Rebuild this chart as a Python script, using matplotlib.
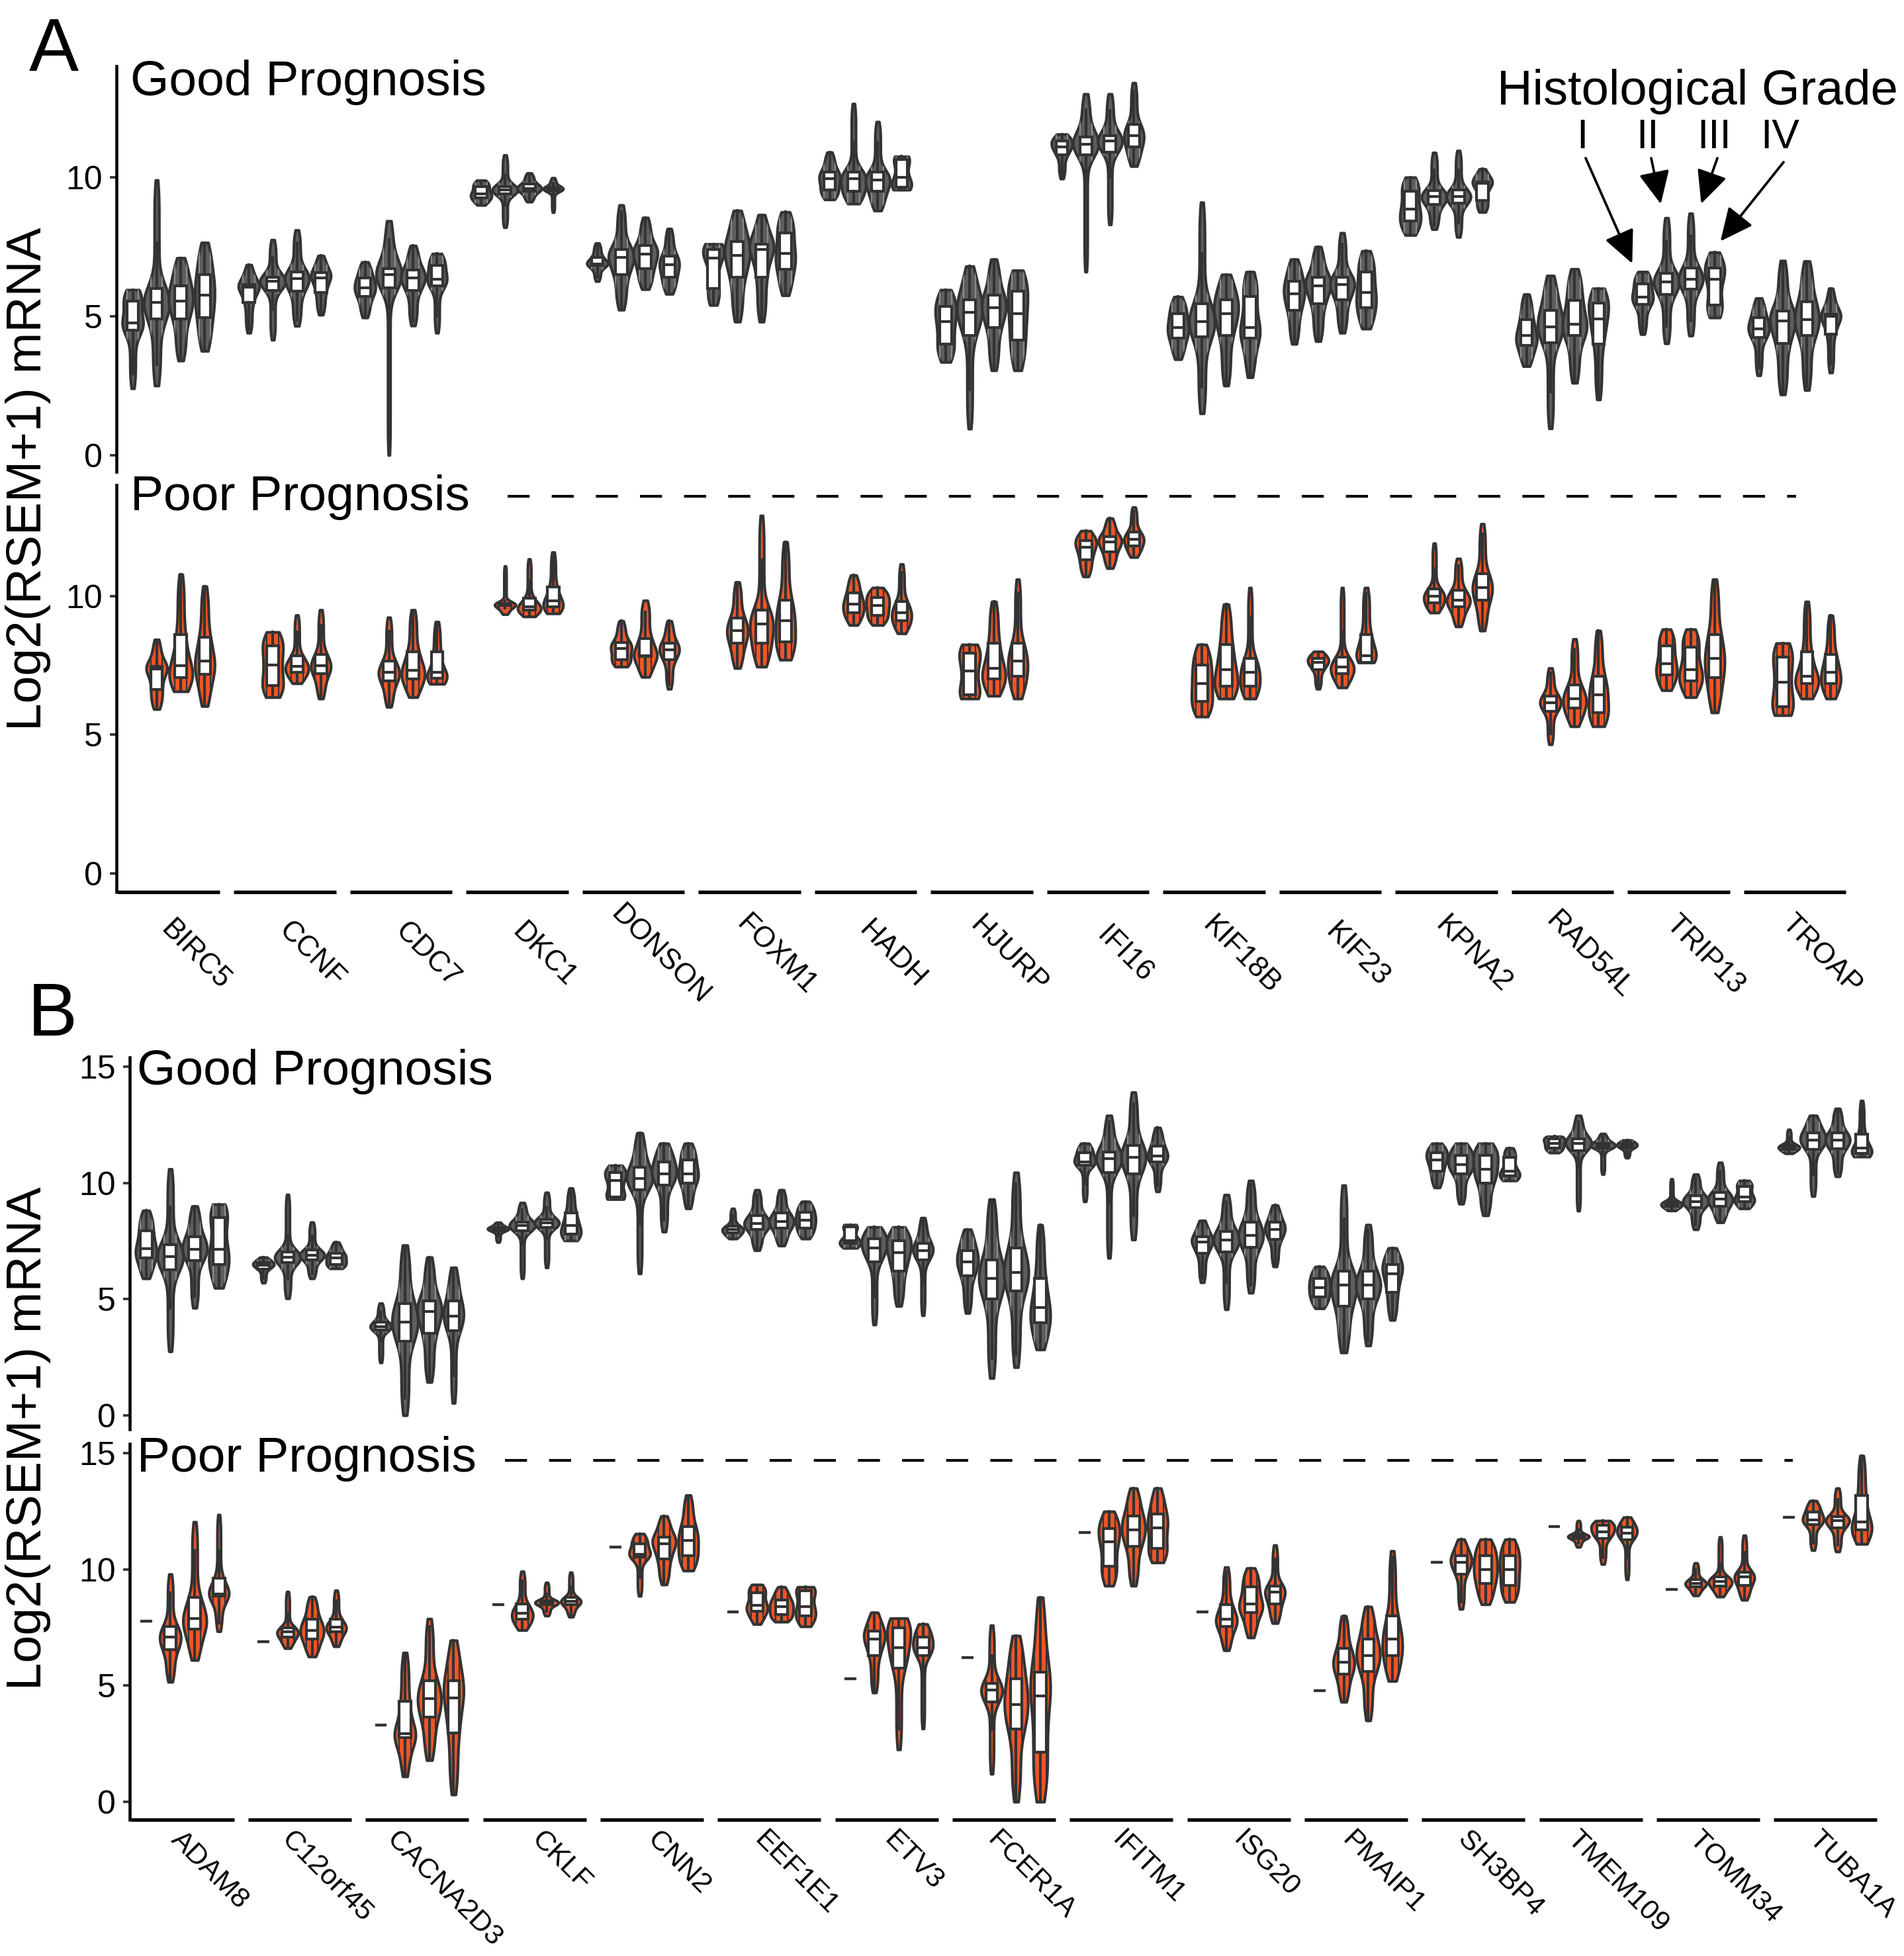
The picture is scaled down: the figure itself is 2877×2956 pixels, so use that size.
import math
import numpy as np
import matplotlib
matplotlib.use("Agg")
import matplotlib.pyplot as plt
from matplotlib.transforms import blended_transform_factory

plt.rcParams['font.family'] = ['Liberation Sans', 'DejaVu Sans']

W, H, DPI = 2877, 2956, 300

grades = ['I', 'II', 'III', 'IV']
genes_a = ['BIRC5', 'CCNF', 'CDC7', 'DKC1', 'DONSON', 'FOXM1', 'HADH', 'HJURP',
           'IFI16', 'KIF18B', 'KIF23', 'KPNA2', 'RAD54L', 'TRIP13', 'TROAP']
genes_b = ['ADAM8', 'C12orf45', 'CACNA2D3', 'CKLF', 'CNN2', 'EEF1E1', 'ETV3', 'FCER1A',
           'IFITM1', 'ISG20', 'PMAIP1', 'SH3BP4', 'TMEM109', 'TOMM34', 'TUBA1A']

# [min, q1, median, q3, max] per gene, grades I..IV (None = no samples)
a_good = [
    [[2.4, 4.5, 4.75, 5.55, 5.95], [2.5, 4.9, 5.5, 6.0, 9.9], [3.4, 4.9, 5.55, 6.1, 7.1], [3.75, 4.95, 5.75, 6.5, 7.65]],
    [[4.4, 5.5, 6.05, 6.15, 6.85], [4.15, 5.93, 6.27, 6.4, 7.75], [4.65, 5.9, 6.35, 6.6, 8.1], [5.05, 5.86, 6.39, 6.56, 7.18]],
    [[4.95, 5.7, 6.03, 6.37, 6.95], [0.0, 6.03, 6.49, 6.72, 8.43], [4.66, 5.92, 6.37, 6.66, 7.54], [4.4, 6.1, 6.32, 6.83, 7.25]],
    [[9.0, 9.26, 9.4, 9.67, 9.89], [8.2, 9.4, 9.55, 9.67, 10.8], [9.12, 9.49, 9.6, 9.75, 10.15], [8.74, 9.52, 9.58, 9.63, 9.98]],
    [[6.26, 6.83, 6.89, 7.12, 7.63], [5.23, 6.49, 7.12, 7.4, 9.0], [5.97, 6.72, 7.23, 7.54, 8.55], [5.8, 6.4, 6.85, 7.16, 8.15]],
    [[5.4, 6.0, 7.1, 7.4, 7.6], [4.8, 6.4, 7.2, 7.7, 8.8], [4.8, 6.4, 7.4, 7.6, 8.65], [5.75, 6.7, 7.25, 8.0, 8.75]],
    [[9.2, 9.55, 9.95, 10.2, 10.9], [9.05, 9.5, 9.95, 10.2, 12.65], [8.8, 9.5, 9.9, 10.2, 12.0], [9.55, 9.65, 10.0, 10.65, 10.75]],
    [[3.35, 4.0, 4.8, 5.35, 5.95], [0.95, 4.3, 5.15, 5.6, 6.8], [3.05, 4.6, 5.3, 5.75, 7.05], [3.05, 4.15, 5.1, 5.9, 6.65]],
    [[9.95, 10.8, 11.1, 11.3, 11.55], [6.6, 10.8, 11.2, 11.45, 13.0], [8.3, 10.9, 11.3, 11.5, 13.0], [10.4, 11.1, 11.5, 11.9, 13.4]],
    [[3.45, 4.2, 4.6, 5.1, 5.7], [1.5, 4.25, 4.8, 5.45, 9.1], [2.5, 4.3, 5.1, 5.6, 6.5], [2.8, 4.2, 4.6, 5.7, 6.6]],
    [[4.0, 5.2, 5.8, 6.25, 7.05], [4.1, 5.45, 6.1, 6.4, 7.5], [4.4, 5.6, 6.15, 6.4, 8.0], [4.55, 5.3, 5.85, 6.6, 7.35]],
    [[7.92, 8.42, 8.85, 9.5, 10.0], [8.13, 9.02, 9.3, 9.52, 10.89], [7.85, 9.07, 9.3, 9.55, 10.96], [8.75, 9.16, 9.78, 9.83, 10.3]],
    [[3.2, 3.95, 4.3, 4.88, 5.79], [0.96, 4.04, 4.62, 5.22, 6.46], [2.6, 4.3, 4.71, 5.57, 6.7], [2.0, 4.0, 4.9, 5.48, 6.0]],
    [[4.35, 5.43, 5.69, 6.17, 6.6], [4.02, 5.79, 6.24, 6.55, 8.54], [4.3, 5.98, 6.34, 6.74, 8.7], [4.95, 5.41, 6.34, 6.74, 7.3]],
    [[2.87, 4.23, 4.55, 4.95, 5.65], [2.18, 4.02, 4.83, 5.19, 7.0], [2.34, 4.3, 4.88, 5.53, 6.98], [2.97, 4.35, 5.0, 5.07, 6.0]],
]

a_poor = [
    [None, [5.92, 6.64, 7.36, 7.47, 8.43], [6.56, 7.07, 7.49, 8.62, 10.78], [6.03, 7.17, 7.66, 8.52, 10.35]],
    [None, [6.35, 6.78, 7.5, 8.2, 8.7], [6.85, 7.26, 7.47, 7.84, 9.31], [6.3, 7.2, 7.49, 7.9, 9.5]],
    [None, [6.0, 6.94, 7.24, 7.66, 9.23], [6.35, 7.02, 7.33, 7.98, 9.5], [6.83, 7.04, 7.24, 8.0, 9.07]],
    [None, [9.34, 9.66, 9.71, 9.73, 11.08], [9.26, 9.5, 9.6, 9.93, 11.33], [9.37, 9.6, 9.82, 10.33, 11.58]],
    [None, [7.45, 7.7, 8.11, 8.32, 9.1], [7.08, 7.82, 7.84, 8.46, 9.84], [6.65, 7.7, 8.05, 8.3, 9.1]],
    [None, [7.4, 8.3, 8.75, 9.2, 10.5], [7.45, 8.3, 9.0, 9.5, 12.9], [7.7, 8.35, 9.1, 9.85, 11.95]],
    [None, [8.95, 9.4, 9.7, 10.1, 10.75], [8.95, 9.3, 9.65, 9.95, 10.3], [8.65, 9.1, 9.4, 9.8, 11.15]],
    [None, [6.3, 6.45, 7.3, 7.95, 8.25], [6.4, 7.0, 7.4, 8.3, 9.8], [6.3, 7.1, 7.65, 8.3, 10.6]],
    [None, [10.7, 11.3, 11.75, 12.0, 12.35], [11.0, 11.6, 11.95, 12.15, 12.8], [11.4, 11.8, 12.05, 12.3, 13.2]],
    [None, [5.65, 6.2, 6.85, 7.5, 8.25], [6.3, 6.75, 7.35, 8.25, 9.7], [6.3, 6.75, 7.25, 7.75, 10.3]],
    [None, [6.65, 7.35, 7.6, 7.75, 8.0], [6.7, 7.2, 7.45, 7.8, 10.3], [7.6, 7.6, 7.85, 8.6, 10.3]],
    [None, [9.4, 9.75, 10.0, 10.25, 11.9], [8.9, 9.6, 9.85, 10.2, 11.35], [8.75, 9.85, 10.3, 10.8, 12.6]],
    [None, [4.65, 5.85, 6.15, 6.4, 7.4], [5.3, 5.95, 6.3, 6.8, 8.45], [5.3, 5.8, 6.45, 7.1, 8.75]],
    [None, [6.6, 7.15, 7.55, 8.2, 8.8], [6.35, 6.95, 7.35, 8.15, 8.8], [5.8, 7.05, 7.75, 8.6, 10.6]],
    [None, [5.7, 6.0, 6.9, 7.8, 8.3], [6.3, 6.85, 7.1, 8.0, 9.8], [6.3, 6.85, 7.25, 7.9, 9.3]],
]

b_good = [
    [[5.89, 6.77, 7.18, 7.93, 8.81], [2.75, 6.25, 6.84, 7.34, 10.6], [4.62, 6.66, 7.15, 7.68, 9.0], [5.48, 6.5, 7.15, 8.5, 9.08]],
    [[5.7, 6.3, 6.47, 6.57, 6.8], [5.03, 6.57, 6.8, 7.04, 9.5], [5.89, 6.7, 6.9, 7.11, 8.31], [6.32, 6.5, 6.77, 6.98, 7.45]],
    [[2.27, 3.68, 3.8, 4.0, 4.82], [0.0, 3.19, 4.02, 4.82, 7.32], [1.43, 3.53, 4.46, 4.93, 6.8], [0.53, 3.64, 4.28, 4.93, 6.36]],
    [[7.45, 7.93, 8.02, 8.07, 8.3], [5.89, 7.93, 8.16, 8.3, 9.15], [6.36, 8.09, 8.27, 8.43, 9.59], [7.52, 7.79, 8.16, 8.71, 9.77]],
    [[9.3, 9.4, 10.1, 10.45, 10.75], [6.1, 9.7, 10.18, 10.68, 12.15], [7.9, 9.9, 10.4, 10.9, 11.7], [8.9, 10.0, 10.4, 11.0, 11.7]],
    [[7.6, 7.85, 8.0, 8.15, 8.9], [7.1, 8.0, 8.25, 8.6, 9.7], [7.3, 8.05, 8.35, 8.7, 9.7], [7.6, 8.05, 8.4, 8.75, 9.2]],
    [[7.2, 7.4, 7.5, 8.1, 8.2], [3.9, 6.6, 7.2, 7.6, 8.1], [4.7, 6.2, 7.0, 7.5, 8.1], [4.3, 6.7, 7.1, 7.4, 8.5]],
    [[4.4, 6.0, 6.6, 7.1, 8.0], [1.6, 5.0, 5.9, 6.7, 9.3], [2.07, 5.36, 6.15, 7.2, 10.45], [2.83, 3.99, 4.65, 5.89, 8.19]],
    [[9.2, 10.77, 10.9, 11.3, 11.7], [6.77, 10.45, 11.05, 11.33, 12.9], [7.56, 10.4, 11.1, 11.6, 13.9], [9.63, 10.9, 11.16, 11.59, 12.38]],
    [[5.72, 6.97, 7.45, 7.68, 8.38], [4.56, 7.03, 7.54, 7.9, 9.49], [5.27, 7.22, 7.73, 8.3, 10.1], [6.4, 7.56, 7.99, 8.3, 9.04]],
    [[4.6, 5.1, 5.5, 5.9, 6.4], [2.7, 4.7, 5.6, 6.2, 9.9], [3.0, 5.0, 5.6, 6.2, 8.2], [4.1, 5.3, 6.1, 6.5, 7.2]],
    [[9.8, 10.5, 11.0, 11.3, 11.7], [9.1, 10.4, 10.8, 11.2, 11.7], [8.6, 10.0, 10.6, 11.2, 11.7], [10.1, 10.3, 10.5, 11.1, 11.5]],
    [[11.3, 11.5, 11.7, 11.9, 12.0], [8.8, 11.4, 11.7, 11.9, 12.9], [10.37, 11.5, 11.6, 11.7, 12.12], [11.08, 11.5, 11.6, 11.7, 11.84]],
    [[8.81, 9.0, 9.1, 9.2, 10.17], [8.0, 8.95, 9.2, 9.46, 10.37], [8.3, 9.0, 9.3, 9.6, 10.88], [8.9, 9.2, 9.4, 9.85, 10.1]],
    [[11.27, 11.45, 11.55, 11.65, 12.3], [9.43, 11.44, 11.84, 12.15, 12.9], [10.28, 11.47, 11.84, 12.15, 13.2], [11.13, 11.27, 11.5, 12.1, 13.54]],
]

# poor prognosis, panel B: grade I has a single sample per gene
b_poor_single = [7.78, 6.9, 3.3, 8.5, 10.97, 8.17, 5.3, 6.2, 11.6, 8.18, 4.79, 10.3, 11.85, 9.15, 12.25]
b_poor = [
    [None, [5.16, 6.56, 7.08, 7.54, 9.8], [6.1, 7.43, 7.9, 8.79, 12.05], [7.34, 8.86, 8.94, 9.64, 12.36]],
    [None, [6.61, 7.08, 7.31, 7.5, 9.05], [6.25, 7.0, 7.39, 7.85, 8.82], [6.69, 7.31, 7.51, 7.85, 9.1]],
    [None, [1.09, 2.77, 2.92, 4.32, 6.42], [1.79, 3.65, 4.43, 5.21, 7.88], [0.31, 2.95, 4.48, 5.21, 6.95]],
    [None, [7.39, 7.85, 8.12, 8.51, 9.92], [8.01, 8.48, 8.58, 8.66, 9.44], [7.96, 8.48, 8.63, 8.79, 9.88]],
    [None, [8.86, 10.54, 10.65, 11.12, 11.54], [9.35, 10.45, 11.1, 11.4, 12.3], [9.95, 10.6, 11.25, 11.85, 13.2]],
    [None, [7.65, 8.2, 8.45, 9.0, 9.35], [7.75, 8.05, 8.4, 8.7, 9.25], [7.55, 8.0, 8.4, 9.1, 9.25]],
    [None, [4.7, 6.3, 7.0, 7.35, 8.15], [2.25, 5.75, 6.65, 7.5, 7.9], [3.15, 6.3, 6.65, 7.1, 7.65]],
    [None, [1.2, 4.3, 4.8, 5.1, 7.6], [0.0, 3.13, 4.19, 5.3, 7.15], [0.0, 2.14, 4.56, 5.58, 8.8]],
    [None, [9.3, 10.15, 11.2, 11.77, 12.5], [9.3, 11.0, 11.7, 12.3, 13.5], [10.3, 10.9, 11.8, 12.4, 13.5]],
    [None, [6.52, 7.55, 7.86, 8.49, 10.1], [7.07, 8.15, 8.52, 9.26, 10.06], [7.69, 8.52, 9.03, 9.29, 11.05]],
    [None, [4.3, 5.5, 6.0, 6.6, 8.0], [3.5, 5.6, 6.3, 7.0, 8.4], [5.2, 6.3, 7.0, 8.0, 10.8]],
    [None, [8.3, 9.8, 10.3, 10.6, 11.3], [8.5, 9.4, 10.0, 10.6, 11.3], [8.6, 9.3, 10.0, 10.6, 11.3]],
    [None, [10.97, 11.35, 11.42, 11.5, 12.1], [10.23, 11.34, 11.62, 11.9, 12.1], [9.57, 11.28, 11.57, 11.82, 12.25]],
    [None, [8.88, 9.26, 9.4, 9.57, 10.28], [8.83, 9.29, 9.49, 9.68, 11.4], [8.69, 9.32, 9.68, 9.89, 11.47]],
    [None, [10.83, 11.94, 12.14, 12.48, 12.96], [10.77, 11.79, 12.11, 12.28, 13.5], [11.1, 11.7, 12.05, 13.2, 14.9]],
]

GOOD_FILL = '#5e5e5e'
POOR_FILL = '#EF5528'
EDGE = '#333333'
offsets = [-0.31, -0.104, 0.104, 0.31]
good_widths = [0.18, 0.22, 0.21, 0.17]
poor_widths = [0.18, 0.18, 0.20, 0.17]
BOX_W = 0.1
LW = 1.0

erf = np.vectorize(math.erf)


def violin_shape(q):
    # smooth outline built from the five read-off quantiles
    lo, q1, med, q3, hi = q
    y = np.linspace(lo, hi, 200)
    bw = 0.18 * (q3 - q1) + 0.04 * (hi - lo) + 0.02
    s = bw * math.sqrt(2)
    dens = np.zeros_like(y)
    knots = [lo, q1, med, q3, hi]
    for a, b in zip(knots[:-1], knots[1:]):
        dens += 0.25 / max(b - a, 0.05) * 0.5 * (erf((y - a) / s) - erf((y - b) / s))
    return dict(coords=y, vals=dens, mean=med, median=med, min=lo, max=hi)


def box_stats(q):
    lo, q1, med, q3, hi = q
    iqr = q3 - q1
    return dict(med=med, q1=q1, q3=q3, whislo=max(lo, q1 - 1.5 * iqr),
                whishi=min(hi, q3 + 1.5 * iqr), fliers=[])


def draw_panel(ax, data, fill, widths, inner, singles=None):
    vstats, vpos, vw, bstats, bpos = [], [], [], [], []
    for i, gene in enumerate(data):
        for g, q in enumerate(gene):
            if q is None:
                continue
            vstats.append(violin_shape(q))
            vpos.append(i + offsets[g])
            vw.append(widths[g])
            bstats.append(box_stats(q))
            bpos.append(i + offsets[g])
    parts = ax.violin(vstats, positions=vpos, widths=vw, showextrema=False)
    for body, x, st in zip(parts['bodies'], vpos, bstats):
        body.set_facecolor(fill)
        body.set_edgecolor(EDGE)
        body.set_linewidth(LW)
        body.set_alpha(1)
        body.set_zorder(2)
        # faint lines continuing the box edges inside the violin body
        for dx in (-BOX_W / 2, BOX_W / 2):
            for y0, y1 in ((st['whislo'], st['q1']), (st['q3'], st['whishi'])):
                ln, = ax.plot([x + dx, x + dx], [y0, y1], color=inner, lw=0.5, zorder=2.5)
                ln.set_clip_path(body.get_paths()[0], ax.transData)
    if singles is not None:
        for i, v in enumerate(singles):
            bstats.append(dict(med=v, q1=v, q3=v, whislo=v, whishi=v, fliers=[]))
            bpos.append(i + offsets[0])
    ax.bxp(bstats, positions=bpos, widths=BOX_W, patch_artist=True, showfliers=False,
           showcaps=False, manage_ticks=False,
           boxprops=dict(facecolor='white', edgecolor=EDGE, linewidth=LW),
           medianprops=dict(color=EDGE, linewidth=LW),
           whiskerprops=dict(color=EDGE, linewidth=LW), zorder=3)


def fx(px):
    return px / W


def fy(py):
    return 1 - py / H


fig = plt.figure(figsize=(W / DPI, H / DPI), dpi=DPI)


def make_axes(left, right, top, bottom, ylim, yticks, xaxis):
    ax = fig.add_axes([fx(left), fy(bottom), (right - left) / W, (bottom - top) / H])
    ax.set_xlim(-0.45, 14.45)
    ax.set_ylim(*ylim)
    for s in ['top', 'right', 'bottom']:
        ax.spines[s].set_visible(False)
    ax.spines['left'].set_linewidth(1.1)
    ax.spines['left'].set_color('black')
    ax.set_xticks([])
    ax.set_yticks(yticks)
    ax.tick_params(axis='y', length=2.5, width=0.9, color=EDGE, labelsize=12, pad=2.5)
    ax.patch.set_alpha(0)
    if xaxis:
        for i in range(15):
            ax.plot([i - 0.44, i + 0.44], [ylim[0], ylim[0]], color='black', lw=1.3,
                    solid_capstyle='butt', clip_on=False)
    return ax


ax_ag = make_axes(176, 2791, 100, 713, (-0.6, 14.0), [0, 5, 10], False)
ax_ap = make_axes(176, 2791, 733, 1348, (-0.67, 14.0), [0, 5, 10], True)
ax_bg = make_axes(196, 2838, 1598, 2160, (-0.6, 15.4), [0, 5, 10, 15], False)
ax_bp = make_axes(196, 2838, 2182, 2750, (-0.77, 15.41), [0, 5, 10, 15], True)

draw_panel(ax_ag, a_good, GOOD_FILL, good_widths, '#8c8c8c')
draw_panel(ax_ap, a_poor, POOR_FILL, poor_widths, EDGE)
draw_panel(ax_bg, b_good, GOOD_FILL, good_widths, '#8c8c8c')
draw_panel(ax_bp, b_poor, POOR_FILL, poor_widths, EDGE, singles=b_poor_single)

# dashed separators next to "Poor Prognosis"
ax_ap.plot([2.92, 14.01], [13.6, 13.6], color='black', lw=1.0, ls=(0, (8, 8)))
ax_bp.plot([2.75, 13.72], [14.7, 14.7], color='black', lw=1.0, ls=(0, (8, 8)))

# gene labels
tr = blended_transform_factory(ax_ap.transData, fig.transFigure)
for i, name in enumerate(genes_a):
    ax_ap.text(i + 0.23, fy(1443), name, transform=tr, rotation=-45, ha='center',
               va='center', fontsize=10.5, clip_on=False)
tr = blended_transform_factory(ax_bp.transData, fig.transFigure)
for i, name in enumerate(genes_b):
    ax_bp.text(i + 0.23, fy(2760), name, transform=tr, rotation=-45, ha='center',
               va='top', fontsize=10.3, clip_on=False)

# panel texts
fig.text(fx(44), fy(107), 'A', fontsize=27, va='baseline', ha='left')
fig.text(fx(42), fy(1565), 'B', fontsize=27, va='baseline', ha='left')
fig.text(fx(197), fy(144), 'Good Prognosis', fontsize=18, va='baseline')
fig.text(fx(197), fy(771), 'Poor Prognosis', fontsize=18, va='baseline')
fig.text(fx(207), fy(1639), 'Good Prognosis', fontsize=18, va='baseline')
fig.text(fx(207), fy(2224), 'Poor Prognosis', fontsize=18, va='baseline')
fig.text(fx(43), fy(724), 'Log2(RSEM+1) mRNA', rotation=90, fontsize=18, ha='center', va='center')
fig.text(fx(43), fy(2174), 'Log2(RSEM+1) mRNA', rotation=90, fontsize=18, ha='center', va='center')

# histological grade key pointing at TRIP13
fig.text(fx(2868), fy(158), 'Histological Grade', fontsize=17.8, va='baseline', ha='right')
label_x = [2391, 2490, 2590, 2690]
tail_y = [239, 239, 239, 245]
tip_shift = [(-0.09, 0.3), (-0.05, 0.5), (0.09, 0.35), (0.05, 0.4)]
trip = genes_a.index('TRIP13')
for g in range(4):
    fig.text(fx(label_x[g]), fy(224), grades[g], fontsize=15, ha='center', va='baseline')
    tip = (trip + offsets[g] + tip_shift[g][0], a_good[trip][g][4] + tip_shift[g][1])
    ax_ag.annotate('', xy=tip, xycoords='data',
                   xytext=(fx(label_x[g] + 5), fy(tail_y[g])), textcoords='figure fraction',
                   arrowprops=dict(arrowstyle='-|>,head_length=0.85,head_width=0.4',
                                   color='black', lw=0.9, shrinkA=0, shrinkB=0,
                                   mutation_scale=12), annotation_clip=False)

fig.savefig('out.png', dpi=DPI, facecolor='white')
